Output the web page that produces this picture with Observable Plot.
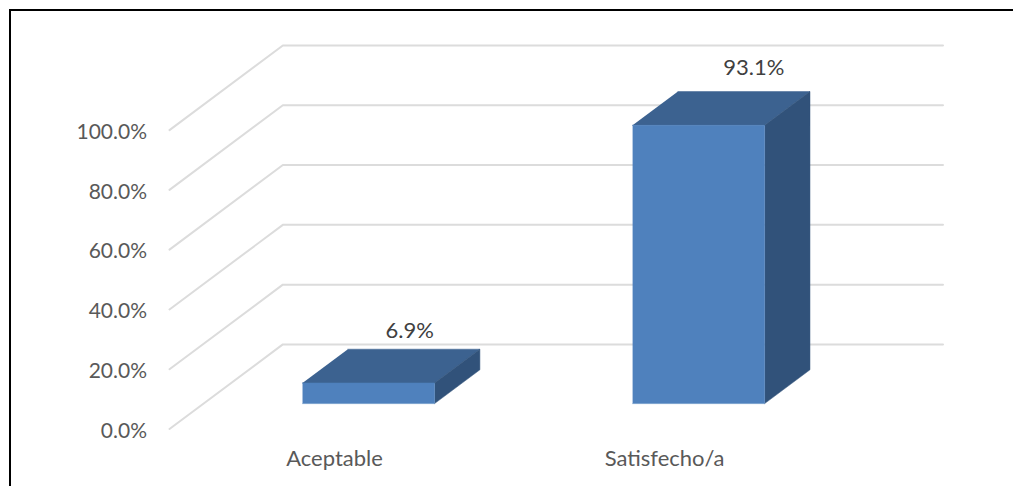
<!DOCTYPE html>
<html>
<head>
<meta charset="utf-8">
<script src="https://cdn.jsdelivr.net/npm/d3@7"></script>
<script src="https://cdn.jsdelivr.net/npm/@observablehq/plot@0.6"></script>
<style>
  html, body { margin: 0; padding: 0; background: #fff; overflow: hidden; }
  #chart { position: relative; width: 1013px; height: 486px; overflow: hidden; }
  #chart svg { position: absolute; left: 0; top: 0; }
  #edge { position: absolute; left: 9px; top: 9px; right: 0; height: 500px;
          border-left: 2px solid #000; border-top: 2px solid #000; box-sizing: border-box; }
</style>
</head>
<body>
<div id="chart"><div id="edge"></div></div>
<script>
const categories = ["Aceptable", "Satisfecho/a"];
const shares = [6.9, 93.1];
const yTicks = [0, 20, 40, 60, 80, 100];

// Oblique projection: a point at depth d (0 front, 1 back wall) is shifted
// right by d * depthX categories and up by d * depthY percentage points.
const depthX = 0.3434;
const depthY = 28.3;
const project = (cat, pct, d) => ({x: cat + d * depthX, y: pct + d * depthY});

// Bar footprint inside each category slot and within the floor's depth.
const barHalf = 0.2;
const nearD = 0.3;
const farD = 0.7;

const grid = yTicks.flatMap((v) => [
  {v, ...project(0, v, 0)},
  {v, ...project(0, v, 1)},
  {v, ...project(categories.length, v, 1)}
]);

function face(corners) {
  return categories.flatMap((c, i) =>
    corners(i + 0.5 - barHalf, i + 0.5 + barHalf, shares[i]).map(([x, y, d]) => ({c, ...project(x, y, d)}))
  );
}
const frontFace = face((l, r, h) => [[l, 0, nearD], [r, 0, nearD], [r, h, nearD], [l, h, nearD]]);
const topFace = face((l, r, h) => [[l, h, nearD], [r, h, nearD], [r, h, farD], [l, h, farD]]);
const sideFace = face((l, r, h) => [[r, 0, nearD], [r, 0, farD], [r, h, farD], [r, h, nearD]]);

const pct1 = (v) => v.toFixed(1) + "%";
const fontFamily = "Lato, sans-serif";

const plot = Plot.plot({
  width: 1013,
  height: 486,
  marginLeft: 169,
  marginRight: 70.5,
  marginTop: 45,
  marginBottom: 57.5,
  style: {background: "transparent", fontFamily},
  x: {domain: [0, categories.length + depthX], axis: null},
  y: {domain: [0, 100 + depthY], axis: null},
  marks: [
    Plot.line(grid, {x: "x", y: "y", z: "v", stroke: "#dcdcdc", strokeWidth: 2, curve: "linear"}),
    Plot.line(topFace, {x: "x", y: "y", z: "c", fill: "#3c6290", stroke: "#3c6290", strokeWidth: 0.5}),
    Plot.line(sideFace, {x: "x", y: "y", z: "c", fill: "#31527a", stroke: "#31527a", strokeWidth: 0.5}),
    Plot.line(frontFace, {x: "x", y: "y", z: "c", fill: "#4f81bd", stroke: "#4f81bd", strokeWidth: 0.5}),
    Plot.axisY({
      ticks: yTicks,
      tickFormat: pct1,
      tickSize: 0,
      tickPadding: 22.5,
      label: null,
      fontSize: 21,
      color: "#595959",
      dy: 2
    }),
    Plot.text(categories, {
      x: (d, i) => i + 0.5,
      y: () => 0,
      text: (d) => d,
      dy: 30,
      fontSize: 22,
      fill: "#595959"
    }),
    // Value labels sit above each bar's top face.
    Plot.text([0], {
      x: () => project(0.5, shares[0], 0.5).x,
      y: () => project(0.5, shares[0], 0.5).y,
      text: () => pct1(shares[0]),
      dx: 18.5, dy: -35,
      fontSize: 22,
      fill: "#404040"
    }),
    Plot.text([1], {
      x: () => project(1.5, shares[1], 0.5).x,
      y: () => project(1.5, shares[1], 0.5).y,
      text: () => pct1(shares[1]),
      dx: 32.5, dy: -40,
      fontSize: 22,
      fill: "#404040"
    })
  ]
});
document.getElementById("chart").appendChild(plot);
</script>
</body>
</html>
